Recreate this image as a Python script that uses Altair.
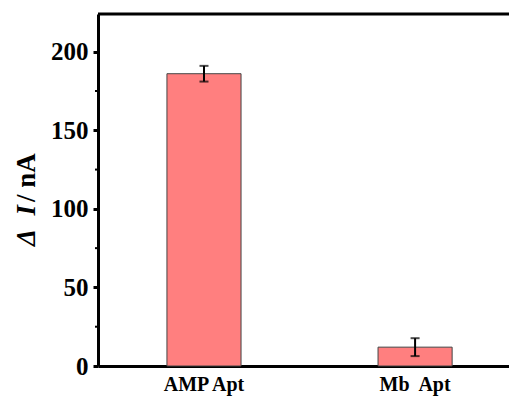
import altair as alt
import pandas as pd

categories = ["AMP Apt", "Mb\u00a0 Apt"]
values = [186, 12]
errors = [5.0, 5.7]
minor_ticks = [25, 75, 125, 175]

df = pd.DataFrame({"cat": categories, "val": values, "err": errors})
df["lo"] = df["val"] - df["err"]
df["hi"] = df["val"] + df["err"]

FONT = "Liberation Serif"
W, H = 411, 352

x_scale = alt.Scale(paddingInner=0.649, paddingOuter=0.298, align=0.548)
x_enc = alt.X("cat:N", sort=categories, title=None, scale=x_scale,
              axis=alt.Axis(labelAngle=0, labelFont=FONT, labelFontSize=20,
                            labelFontWeight="bold", labelColor="black",
                            ticks=False, domainColor="black", domainWidth=3,
                            labelPadding=8))
x_plain = alt.X("cat:N", sort=categories, scale=x_scale)
y_scale = alt.Scale(domain=[0, 224], nice=False)

bars = alt.Chart(df).mark_bar(color="#FF7F7F", stroke="#444444", strokeWidth=1).encode(
    x=x_enc,
    y=alt.Y("val:Q", scale=y_scale, title=None,
            axis=alt.Axis(values=[0, 50, 100, 150, 200], labelFont=FONT,
                          labelFontSize=25, labelFontWeight="bold",
                          labelColor="black", tickColor="black", tickWidth=3,
                          tickSize=5, domainColor="black", domainWidth=3,
                          labelPadding=5, grid=False)),
)

err_line = alt.Chart(df).mark_rule(color="black", strokeWidth=2).encode(
    x=x_plain, y=alt.Y("lo:Q", scale=y_scale), y2="hi:Q")
cap_lo = alt.Chart(df).mark_tick(color="black", thickness=2, size=9, orient="horizontal").encode(
    x=x_plain, y=alt.Y("lo:Q", scale=y_scale))
cap_hi = alt.Chart(df).mark_tick(color="black", thickness=2, size=9, orient="horizontal").encode(
    x=x_plain, y=alt.Y("hi:Q", scale=y_scale))

minor_df = pd.DataFrame({"v": minor_ticks})
minor = alt.Chart(minor_df).mark_rule(color="black", strokeWidth=2).encode(
    x=alt.value(-3), x2=alt.value(0), y=alt.Y("v:Q", scale=y_scale)
)

top = alt.Chart(pd.DataFrame({"a": [0]})).mark_rule(color="black", strokeWidth=3).encode(
    x=alt.value(0), x2=alt.value(W), y=alt.value(0)
)

t1 = alt.Chart(pd.DataFrame({"t": ["Δ\u00a0\u00a0I"]})).mark_text(font=FONT, fontSize=27, fontWeight="bold",
                                   fontStyle="italic", angle=270, align="right",
                                   baseline="alphabetic", color="black").encode(
    x=alt.value(-63), y=alt.value(191), text="t:N")
t2 = alt.Chart(pd.DataFrame({"t": ["/ nA"]})).mark_text(font=FONT, fontSize=27, fontWeight="bold",
                                   angle=270, align="left",
                                   baseline="alphabetic", color="black").encode(
    x=alt.value(-63), y=alt.value(188), text="t:N")

chart = alt.layer(bars, err_line, cap_lo, cap_hi, minor, top, t1, t2).properties(
    width=W, height=H,
    autosize=alt.AutoSizeParams(type="none"),
    padding={"left": 90, "top": 6, "right": 0, "bottom": 30},
).configure_view(stroke=None).configure(background="white")

chart.save("out.html", embed_options={"renderer": "svg", "actions": False})
